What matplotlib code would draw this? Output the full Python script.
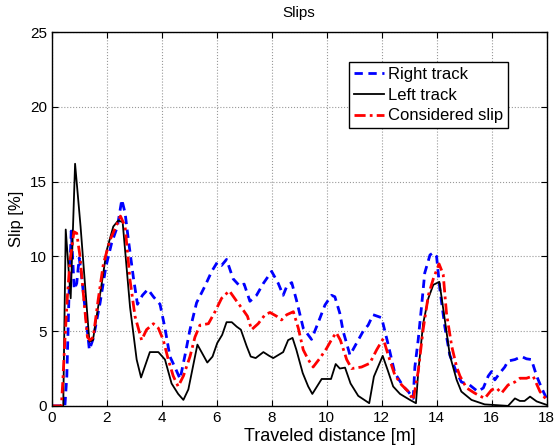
import matplotlib
matplotlib.use('Agg')
import matplotlib.pyplot as plt

plt.rcParams['font.family'] = ['Liberation Sans', 'DejaVu Sans']

# right track slip [%] vs. travelled distance [m]
right_x = [0, 0.48, 0.55, 0.63, 0.71, 0.82, 0.91, 1.0, 1.09, 1.37, 1.51, 1.76, 1.97, 2.18, 2.39, 2.55,
           2.67, 2.79, 2.97, 3.12, 3.3, 3.5, 3.7, 3.94, 4.12, 4.3, 4.48, 4.67, 4.85, 5.03, 5.27, 5.57,
           5.82, 6.02, 6.18, 6.36, 6.6, 6.85, 7.0, 7.21, 7.45, 7.7, 8.0, 8.24, 8.42, 8.55, 8.73, 8.9,
           9.15, 9.33, 9.45, 9.7, 9.94, 10.18, 10.3, 10.48, 10.6, 10.85, 11.09, 11.33, 11.51, 11.69,
           12.0, 12.24, 12.48, 12.79, 12.97, 13.15, 13.21, 13.33, 13.45, 13.57, 13.76, 13.88, 14.0,
           14.12, 14.3, 14.48, 14.67, 14.9, 15.2, 15.5, 15.7, 15.88, 16.0, 16.12, 16.3, 16.48, 16.6,
           16.85, 17.09, 17.27, 17.45, 17.64, 17.82, 18]
right_y = [0, 0, 2.0, 7.5, 11.7, 7.8, 8.2, 9.9, 8.65, 3.75, 4.5, 6.9, 9.3, 10.9, 12.0, 13.8,
           12.9, 11.1, 8.6, 6.8, 7.4, 7.8, 7.3, 6.8, 5.2, 3.3, 2.6, 1.8, 3.4, 5.1, 6.9, 8.0,
           9.0, 9.6, 9.4, 9.8, 8.5, 8.0, 8.15, 7.0, 7.4, 8.2, 9.0, 8.2, 7.4, 8.0, 8.25, 7.1,
           5.2, 4.75, 4.45, 5.6, 6.75, 7.4, 7.3, 6.2, 5.0, 3.4, 4.2, 5.0, 5.4, 6.1,
           5.9, 4.1, 2.2, 1.3, 0.96, 0.5, 2.6, 4.4, 6.6, 8.9, 10.1, 10.25, 10.0,
           7.8, 5.3, 3.4, 2.5, 1.6, 1.4, 0.96, 1.2, 2.0, 2.3, 1.74, 2.2, 2.6, 3.0,
           3.1, 3.3, 3.15, 3.1, 2.0, 1.2, 0.5]

# left track slip
left_x = [0, 0.42, 0.51, 0.69, 0.85, 1.05, 1.37, 1.5, 1.73, 2.0, 2.24, 2.42, 2.58, 2.85, 3.09, 3.25,
          3.57, 3.88, 4.12, 4.36, 4.6, 4.79, 4.97, 5.3, 5.66, 5.85, 6.02, 6.2, 6.36, 6.55, 6.73, 6.88,
          7.09, 7.24, 7.42, 7.7, 7.91, 8.06, 8.42, 8.6, 8.76, 8.9, 9.13, 9.33, 9.48, 9.82, 10.16,
          10.33, 10.48, 10.67, 10.87, 11.15, 11.55, 11.72, 12.04, 12.22, 12.42, 12.67, 13.03, 13.25,
          13.33, 13.51, 13.7, 13.88, 14.1, 14.3, 14.48, 14.73, 14.9, 15.27, 15.75, 16.6, 16.85,
          17.03, 17.2, 17.4, 17.64, 18]
left_y = [0, 0, 11.8, 7.2, 16.2, 12.0, 4.3, 4.4, 7.1, 10.4, 12.0, 12.4, 12.3, 6.6, 3.1, 1.9,
          3.6, 3.6, 3.1, 1.5, 0.8, 0.4, 1.1, 4.1, 2.9, 3.3, 4.2, 4.75, 5.6, 5.6, 5.3, 5.1,
          4.0, 3.3, 3.2, 3.6, 3.35, 3.2, 3.6, 4.4, 4.55, 3.75, 2.2, 1.3, 0.8, 1.8, 1.8,
          2.8, 2.5, 2.56, 1.5, 0.67, 0.18, 1.96, 3.35, 2.4, 1.3, 0.8, 0.4, 0.18,
          2.2, 5.5, 7.2, 8.1, 8.3, 5.75, 3.4, 1.74, 0.96, 0.4, 0.1, 0, 0.5,
          0.33, 0.33, 0.62, 0.3, 0.07]

# slip used by the controller
cons_x = [0, 0.35, 0.4, 0.48, 0.57, 0.67, 0.81, 0.91, 1.03, 1.15, 1.3, 1.39, 1.51, 1.69, 1.88, 2.12,
          2.36, 2.5, 2.67, 2.85, 3.03, 3.27, 3.45, 3.7, 3.88, 4.06, 4.24, 4.42, 4.6, 4.79, 5.03,
          5.21, 5.39, 5.7, 5.94, 6.18, 6.46, 6.73, 6.97, 7.12, 7.27, 7.51, 7.76, 7.94, 8.18, 8.36,
          8.55, 8.79, 8.97, 9.15, 9.33, 9.51, 9.76, 10.0, 10.2, 10.35, 10.5, 10.73, 10.91, 11.27,
          11.57, 11.82, 12.06, 12.24, 12.48, 12.73, 12.95, 13.15, 13.33, 13.51, 13.7, 13.88, 14.09,
          14.24, 14.36, 14.55, 14.73, 14.85, 15.09, 15.39, 15.75, 16.0, 16.18, 16.36, 16.6, 16.85,
          17.03, 17.27, 17.51, 17.76, 18]
cons_y = [0, 0, 1.5, 4.4, 7.3, 9.8, 11.65, 11.55, 10.0, 7.5, 4.6, 4.4, 4.6, 7.1, 9.5, 11.1,
          12.1, 12.7, 12.0, 8.4, 6.0, 4.4, 5.1, 5.5, 5.2, 4.4, 3.1, 2.0, 1.3, 2.0, 3.3,
          4.6, 5.4, 5.5, 6.3, 7.2, 7.7, 7.0, 6.4, 6.0, 5.1, 5.5, 6.1, 6.25, 6.0, 5.75,
          6.1, 6.3, 5.2, 3.75, 3.1, 2.6, 3.2, 3.85, 4.5, 4.9, 4.4, 3.1, 2.5, 2.6,
          2.85, 3.75, 4.5, 3.4, 2.07, 1.4, 1.0, 0.4, 2.3, 5.1, 7.4, 8.5, 9.5,
          8.8, 6.2, 4.0, 2.6, 2.0, 1.2, 0.85, 0.5, 1.07, 1.2, 0.85, 1.4, 1.6,
          1.85, 1.85, 2.0, 0.96, 0.4]

fig = plt.figure(figsize=(5.56, 4.48), dpi=100)
ax = fig.add_axes([0.093, 0.094, 0.890, 0.834])

ax.plot(right_x, right_y, 'b--', lw=2, dashes=(3, 2), label='Right track')
ax.plot(left_x, left_y, 'k-', lw=1.3, label='Left track')
ax.plot(cons_x, cons_y, 'r-.', lw=2, dashes=(4, 1.5, 1, 1.5), label='Considered slip')

ax.set_xlim(0, 18)
ax.set_ylim(0, 25)
ax.set_xticks(range(0, 19, 2))
ax.set_yticks(range(0, 26, 5))
ax.tick_params(direction='in', top=True, right=True, labelsize=11, length=4)
ax.grid(True, linestyle=':', color='#999999', lw=0.8)
for s in ax.spines.values():
    s.set_linewidth(1)

ax.set_title('Slips', fontsize=11, pad=11)
ax.set_xlabel('Traveled distance [m]', fontsize=13)
ax.xaxis.set_label_coords(0.562, -0.083, transform=ax.transAxes)
ax.xaxis.label.set_va('center')
ax.set_ylabel('Slip [%]', fontsize=12, labelpad=4)

leg = ax.legend(loc='upper right', bbox_to_anchor=(0.922, 0.921), fancybox=False,
                edgecolor='k', fontsize=12, handlelength=1.8, handletextpad=0.2,
                borderpad=0.3, labelspacing=0.35, borderaxespad=0)
leg.get_frame().set_linewidth(1)
leg.get_frame().set_alpha(1)

fig.savefig('out.png', dpi=100)
